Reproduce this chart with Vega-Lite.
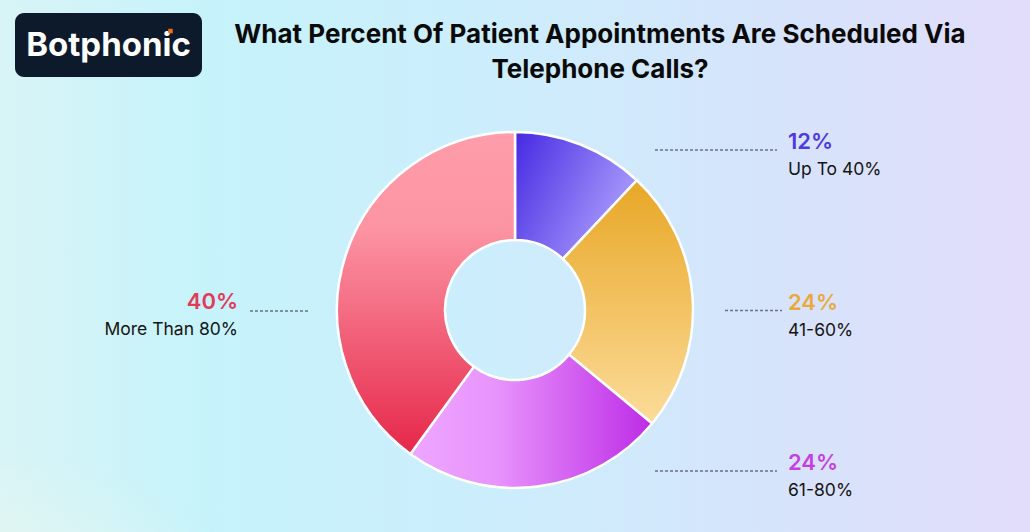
{
  "$schema": "https://vega.github.io/schema/vega-lite/v6.json",
  "width": 1030,
  "height": 532,
  "autosize": {"type": "fit", "contains": "padding"},
  "padding": 0,
  "background": "#cdeefc",
  "config": {"view": {"stroke": null}},
  "datasets": {
    "slices": [
      {"category": "Up To 40%", "share": 0.12},
      {"category": "41-60%", "share": 0.24},
      {"category": "61-80%", "share": 0.24},
      {"category": "More Than 80%", "share": 0.40}
    ],
    "brand": [{"brand": "Botphonic"}],
    "heading": [{"heading": "What Percent Of Patient Appointments Are Scheduled Via\nTelephone Calls?"}]
  },
  "resolve": {"scale": {"x": "independent", "y": "independent", "theta": "independent", "color": "independent"}},
  "layer": [
    {
      "data": {"name": "brand"},
      "mark": {"type": "rect", "fill": {"gradient": "linear", "x1": 0, "y1": 0, "x2": 1, "y2": 0, "stops": [
        {"offset": 0, "color": "#d8f4f6"},
        {"offset": 0.2, "color": "#c6f3fb"},
        {"offset": 0.5, "color": "#cdedfc"},
        {"offset": 0.75, "color": "#d6e4fb"},
        {"offset": 1, "color": "#e2ddfa"}
      ]}}
    },
    {
      "data": {"name": "brand"},
      "mark": {"type": "rect", "fill": {"gradient": "radial", "x1": 0, "y1": 1, "r1": 0, "x2": 0, "y2": 1, "r2": 0.32, "stops": [
        {"offset": 0, "color": "rgba(252,250,228,0.85)"},
        {"offset": 1, "color": "rgba(252,250,228,0)"}
      ]}}
    },
    {
      "data": {"name": "brand"},
      "encoding": {
        "x": {"field": "brand", "type": "nominal", "axis": null, "scale": {"type": "band", "range": [15, 202], "paddingInner": 0, "paddingOuter": 0}},
        "y": {"field": "brand", "type": "nominal", "axis": null, "scale": {"type": "band", "range": [13, 77], "paddingInner": 0, "paddingOuter": 0}}
      },
      "layer": [
        {"mark": {"type": "rect", "fill": "#0c1a2b", "cornerRadius": 9}},
        {"mark": {"type": "text", "fill": "#ffffff", "font": "Inter", "fontWeight": "bold", "fontSize": 33, "align": "center", "baseline": "middle", "dy": 1}, "encoding": {"text": {"field": "brand"}}},
        {"mark": {"type": "point", "shape": "square", "filled": true, "fill": "#f26a1b", "opacity": 1, "size": 20, "xOffset": 62, "yOffset": -14}}
      ]
    },
    {
      "data": {"name": "heading"},
      "mark": {"type": "text", "font": "Inter", "fontWeight": "bold", "fontSize": 26, "fill": "#0a0a0a", "align": "center", "baseline": "alphabetic", "lineBreak": "\n", "lineHeight": 35},
      "encoding": {
        "x": {"field": "heading", "type": "nominal", "axis": null, "scale": {"type": "point", "range": [600, 600]}},
        "y": {"field": "heading", "type": "nominal", "axis": null, "scale": {"type": "point", "range": [43, 43]}},
        "text": {"field": "heading"}
      }
    },
    {
      "data": {"name": "slices"},
      "transform": [{"stack": "share", "groupby": [], "as": ["t0", "t1"]}],
      "encoding": {
        "theta": {"field": "t0", "type": "quantitative", "scale": {"domain": [0, 1]}},
        "theta2": {"field": "t1"}
      },
      "layer": [
        {
          "transform": [{"filter": "datum.category === 'Up To 40%'"}],
          "mark": {"type": "arc", "outerRadius": 178, "innerRadius": 70, "stroke": "#ffffff", "strokeWidth": 2.5, "yOffset": 44,
            "fill": {"gradient": "linear", "x1": 0, "y1": 0, "x2": 1, "y2": 0.5, "stops": [{"offset": 0, "color": "#4529e2"}, {"offset": 1, "color": "#aa9cfc"}]}}
        },
        {
          "transform": [{"filter": "datum.category === '41-60%'"}],
          "mark": {"type": "arc", "outerRadius": 178, "innerRadius": 70, "stroke": "#ffffff", "strokeWidth": 2.5, "yOffset": 44,
            "fill": {"gradient": "linear", "x1": 0, "y1": 0, "x2": 0, "y2": 1, "stops": [{"offset": 0, "color": "#e8a726"}, {"offset": 1, "color": "#fcdc9a"}]}}
        },
        {
          "transform": [{"filter": "datum.category === '61-80%'"}],
          "mark": {"type": "arc", "outerRadius": 178, "innerRadius": 70, "stroke": "#ffffff", "strokeWidth": 2.5, "yOffset": 44,
            "fill": {"gradient": "linear", "x1": 0, "y1": 0, "x2": 1, "y2": 0, "stops": [{"offset": 0, "color": "#eda6ff"}, {"offset": 0.35, "color": "#e894fc"}, {"offset": 1, "color": "#bd2ce6"}]}}
        },
        {
          "transform": [{"filter": "datum.category === 'More Than 80%'"}],
          "mark": {"type": "arc", "outerRadius": 178, "innerRadius": 70, "stroke": "#ffffff", "strokeWidth": 2.5, "yOffset": 44,
            "fill": {"gradient": "linear", "x1": 0, "y1": 0, "x2": 0, "y2": 1, "stops": [{"offset": 0, "color": "#ff9daa"}, {"offset": 0.3, "color": "#fc94a3"}, {"offset": 1, "color": "#e6274a"}]}}
        }
      ]
    },
    {
      "data": {"name": "slices"},
      "transform": [{"filter": "datum.category !== 'More Than 80%'"}],
      "encoding": {
        "x": {"field": "category", "type": "nominal", "axis": null, "scale": {"type": "point", "domain": ["Up To 40%", "41-60%", "61-80%"], "range": [788, 788]}},
        "y": {"field": "category", "type": "nominal", "axis": null, "scale": {"type": "point", "domain": ["Up To 40%", "41-60%", "61-80%"], "range": [149, 470], "padding": 0}},
        "color": {"field": "category", "type": "nominal", "legend": null, "scale": {"domain": ["Up To 40%", "41-60%", "61-80%"], "range": ["#4e37e4", "#e9a93c", "#c53fe2"]}}
      },
      "layer": [
        {"mark": {"type": "text", "font": "Inter", "fontWeight": 600, "fontSize": 22, "align": "left", "baseline": "alphabetic"}, "encoding": {"text": {"field": "share", "type": "quantitative", "format": ".0%"}, "color": {"field": "category", "type": "nominal", "legend": null}}},
        {"mark": {"type": "text", "font": "Inter", "fontSize": 17.5, "fill": "#141414", "align": "left", "baseline": "alphabetic", "dy": 26}, "encoding": {"text": {"field": "category"}}},
        {"transform": [{"filter": "datum.category !== '41-60%'"}], "mark": {"type": "rule", "stroke": "#6b7280", "strokeWidth": 1.5, "strokeDash": [3, 2], "xOffset": -133, "x2Offset": -11, "yOffset": 1}, "encoding": {"x2": {"field": "category"}, "color": {"value": "#6b7280"}}},
        {"transform": [{"filter": "datum.category === '41-60%'"}], "mark": {"type": "rule", "stroke": "#6b7280", "strokeWidth": 1.5, "strokeDash": [3, 2], "xOffset": -63, "x2Offset": -6, "yOffset": 1}, "encoding": {"x2": {"field": "category"}, "color": {"value": "#6b7280"}}}
      ]
    },
    {
      "data": {"name": "slices"},
      "transform": [{"filter": "datum.category === 'More Than 80%'"}],
      "encoding": {
        "x": {"field": "category", "type": "nominal", "axis": null, "scale": {"type": "point", "domain": ["More Than 80%"], "range": [238, 238]}},
        "y": {"field": "category", "type": "nominal", "axis": null, "scale": {"type": "point", "domain": ["More Than 80%"], "range": [309, 309]}}
      },
      "layer": [
        {"mark": {"type": "text", "font": "Inter", "fontWeight": 600, "fontSize": 22, "align": "right", "baseline": "alphabetic", "fill": "#e23a57"}, "encoding": {"text": {"field": "share", "type": "quantitative", "format": ".0%"}}},
        {"mark": {"type": "text", "font": "Inter", "fontSize": 17.5, "fill": "#141414", "align": "right", "baseline": "alphabetic", "dy": 26}, "encoding": {"text": {"field": "category"}}},
        {"mark": {"type": "rule", "stroke": "#6b7280", "strokeWidth": 1.5, "strokeDash": [3, 2], "xOffset": 12, "x2Offset": 70, "yOffset": 2}, "encoding": {"x2": {"field": "category"}}}
      ]
    }
  ]
}
